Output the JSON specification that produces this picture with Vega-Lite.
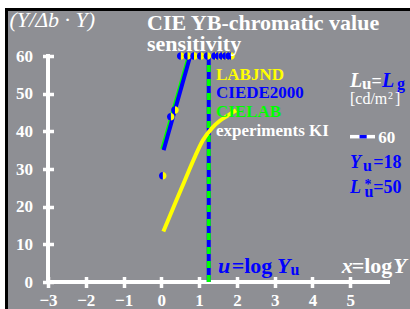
{
  "$schema": "https://vega.github.io/schema/vega-lite/v6.json",
  "width": 340,
  "height": 226,
  "autosize": {"type": "none"},
  "padding": {"left": 48, "top": 56, "right": 22, "bottom": 27},
  "background": "#8e8f94",
  "config": {
    "view": {"stroke": null},
    "axis": {"domain": false, "grid": false, "ticks": true, "tickColor": "white", "tickWidth": 3.5, "tickSize": 11, "offset": -5.5,
      "labelColor": "white", "labelFont": "Liberation Serif", "labelFontSize": 17, "labelFontWeight": "bold",
      "labelFlush": false, "labelOverlap": false, "labelBound": false, "labelSeparation": 0},
    "axisX": {"labelPadding": 5},
    "axisY": {"labelPadding": 10}
  },
  "data": {"values": [{}]},
  "layer": [
    {
      "data": {"values": [
        {"x": 0.053, "y": 13.4}, {"x": 0.3, "y": 19.3}, {"x": 0.627, "y": 27.1}, {"x": 0.9, "y": 33.5},
        {"x": 1.1, "y": 37.6}, {"x": 1.334, "y": 40.8}, {"x": 1.55, "y": 42.8}, {"x": 1.747, "y": 44.1}, {"x": 1.977, "y": 45.6}
      ]},
      "mark": {"type": "line", "color": "#ffff00", "strokeWidth": 4, "interpolate": "monotone", "opacity": 0},
      "encoding": {
        "x": {"field": "x", "type": "quantitative", "title": null, "scale": {"domain": [-3, 6], "nice": false, "zero": false},
          "axis": {"values": [-3, -2, -1, 0, 1, 2, 3, 4, 5], "labelOverlap": false, "labelFlush": false, "labelBound": false, "labelPadding": 5}},
        "y": {"field": "y", "type": "quantitative", "title": null, "scale": {"domain": [0, 60], "nice": false, "zero": false},
          "axis": {"values": [0, 10, 20, 30, 40, 50, 60], "tickCount": 7, "labelOverlap": false, "labelFlush": false, "labelBound": false, "labelPadding": 10}}
      }
    },
    {
      "mark": {"type": "rect", "color": "white"},
      "encoding": {
        "x": {"datum": -5, "type": "quantitative", "title": null, "scale": {"domain": [-3, 6], "nice": false, "zero": false}},
        "x2": {"datum": 7},
        "y": {"datum": 72.74, "type": "quantitative", "title": null, "scale": {"domain": [0, 60], "nice": false, "zero": false}},
        "y2": {"datum": 80}
      }
    },
    {
      "mark": {"type": "rect", "color": "white"},
      "encoding": {
        "x": {"datum": -5, "type": "quantitative", "title": null, "scale": {"domain": [-3, 6], "nice": false, "zero": false}},
        "x2": {"datum": -4.138},
        "y": {"datum": -10, "type": "quantitative", "title": null, "scale": {"domain": [0, 60], "nice": false, "zero": false}},
        "y2": {"datum": 80}
      }
    },
    {
      "mark": {"type": "rect", "color": "black"},
      "encoding": {
        "x": {"datum": -4.138, "type": "quantitative", "title": null, "scale": {"domain": [-3, 6], "nice": false, "zero": false}},
        "x2": {"datum": 7},
        "y": {"datum": 71.95, "type": "quantitative", "title": null, "scale": {"domain": [0, 60], "nice": false, "zero": false}},
        "y2": {"datum": 72.74}
      }
    },
    {
      "mark": {"type": "rect", "color": "black"},
      "encoding": {
        "x": {"datum": -4.138, "type": "quantitative", "title": null, "scale": {"domain": [-3, 6], "nice": false, "zero": false}},
        "x2": {"datum": -4.059},
        "y": {"datum": -10, "type": "quantitative", "title": null, "scale": {"domain": [0, 60], "nice": false, "zero": false}},
        "y2": {"datum": 72.74}
      }
    },
    {
      "mark": {"type": "rule", "color": "white", "strokeWidth": 4, "strokeCap": "square"},
      "encoding": {
        "x": {"datum": -3, "type": "quantitative", "title": null, "scale": {"domain": [-3, 6], "nice": false, "zero": false}},
        "x2": {"datum": 6},
        "y": {"datum": 0, "type": "quantitative", "title": null, "scale": {"domain": [0, 60], "nice": false, "zero": false}}
      }
    },
    {
      "mark": {"type": "rule", "color": "white", "strokeWidth": 4, "strokeCap": "square"},
      "encoding": {
        "x": {"datum": -3, "type": "quantitative", "title": null, "scale": {"domain": [-3, 6], "nice": false, "zero": false}},
        "y": {"datum": 0, "type": "quantitative", "title": null, "scale": {"domain": [0, 60], "nice": false, "zero": false}},
        "y2": {"datum": 60}
      }
    },
    {
      "mark": {"type": "rule", "color": "#0000ff", "strokeWidth": 4},
      "encoding": {
        "x": {"datum": 1.255, "type": "quantitative", "title": null, "scale": {"domain": [-3, 6], "nice": false, "zero": false}},
        "y": {"datum": 0, "type": "quantitative", "title": null, "scale": {"domain": [0, 60], "nice": false, "zero": false}},
        "y2": {"datum": 60}
      }
    },
    {
      "mark": {"type": "rule", "color": "#00ff00", "strokeWidth": 4, "strokeDash": [7, 7]},
      "encoding": {
        "x": {"datum": 1.255, "type": "quantitative", "title": null, "scale": {"domain": [-3, 6], "nice": false, "zero": false}},
        "y": {"datum": 0, "type": "quantitative", "title": null, "scale": {"domain": [0, 60], "nice": false, "zero": false}},
        "y2": {"datum": 60}
      }
    },
    {
      "data": {"values": [
        {"x": 0.053, "y": 13.4}, {"x": 0.3, "y": 19.3}, {"x": 0.627, "y": 27.1}, {"x": 0.9, "y": 33.5},
        {"x": 1.1, "y": 37.6}, {"x": 1.334, "y": 40.8}, {"x": 1.55, "y": 42.8}, {"x": 1.747, "y": 44.1}, {"x": 1.977, "y": 45.6}
      ]},
      "mark": {"type": "line", "color": "#ffff00", "strokeWidth": 4, "interpolate": "monotone"},
      "encoding": {
        "x": {"field": "x", "type": "quantitative", "title": null, "scale": {"domain": [-3, 6], "nice": false, "zero": false}},
        "y": {"field": "y", "type": "quantitative", "title": null, "scale": {"domain": [0, 60], "nice": false, "zero": false}}
      }
    },
    {
      "data": {"values": [{"x": 0.025, "y": 35.3}, {"x": 0.735, "y": 60.2}]},
      "mark": {"type": "line", "color": "#00ff00", "strokeWidth": 4},
      "encoding": {
        "x": {"field": "x", "type": "quantitative", "title": null, "scale": {"domain": [-3, 6], "nice": false, "zero": false}},
        "y": {"field": "y", "type": "quantitative", "title": null, "scale": {"domain": [0, 60], "nice": false, "zero": false}}
      }
    },
    {
      "data": {"values": [{"x": 0.06, "y": 35.0}, {"x": 0.77, "y": 60.2}]},
      "mark": {"type": "line", "color": "#0000ff", "strokeWidth": 4},
      "encoding": {
        "x": {"field": "x", "type": "quantitative", "title": null, "scale": {"domain": [-3, 6], "nice": false, "zero": false}},
        "y": {"field": "y", "type": "quantitative", "title": null, "scale": {"domain": [0, 60], "nice": false, "zero": false}}
      }
    },
    {
      "data": {"name": "pts", "values": [
        {"x": 0.037, "y": 28.2}, {"x": 0.249, "y": 43.9}, {"x": 0.36, "y": 45.66},
        {"x": 0.512, "y": 60}, {"x": 0.69, "y": 60}, {"x": 0.865, "y": 60}, {"x": 1.042, "y": 60}, {"x": 1.219, "y": 60},
        {"x": 1.42, "y": 60}, {"x": 1.51, "y": 60}, {"x": 1.61, "y": 60}, {"x": 1.7, "y": 60}, {"x": 1.79, "y": 60}, {"x": 1.845, "y": 60}
      ]},
      "layer": [
        {
          "mark": {"type": "point", "shape": "M0,-1A1,1,0,0,1,0,1Z", "filled": true, "color": "#ffff00", "size": 56, "opacity": 1, "strokeWidth": 0},
          "encoding": {
            "x": {"field": "x", "type": "quantitative", "title": null, "scale": {"domain": [-3, 6], "nice": false, "zero": false}},
            "y": {"field": "y", "type": "quantitative", "title": null, "scale": {"domain": [0, 60], "nice": false, "zero": false}}
          }
        },
        {
          "mark": {"type": "point", "shape": "M0,-1A1,1,0,0,0,0,1Z", "filled": true, "color": "#0000ff", "size": 56, "opacity": 1, "strokeWidth": 0},
          "encoding": {
            "x": {"field": "x", "type": "quantitative", "title": null, "scale": {"domain": [-3, 6], "nice": false, "zero": false}},
            "y": {"field": "y", "type": "quantitative", "title": null, "scale": {"domain": [0, 60], "nice": false, "zero": false}}
          }
        }
      ]
    },
    {
      "mark": {"type": "rule", "color": "white", "strokeWidth": 3.5},
      "encoding": {
        "x": {"datum": 4.994, "type": "quantitative", "title": null, "scale": {"domain": [-3, 6], "nice": false, "zero": false}},
        "x2": {"datum": 5.656},
        "y": {"datum": 38.58, "type": "quantitative", "title": null, "scale": {"domain": [0, 60], "nice": false, "zero": false}}
      }
    },
    {
      "mark": {"type": "rule", "color": "#0000ff", "strokeWidth": 3.5},
      "encoding": {
        "x": {"datum": 5.246, "type": "quantitative", "title": null, "scale": {"domain": [-3, 6], "nice": false, "zero": false}},
        "x2": {"datum": 5.436},
        "y": {"datum": 38.58, "type": "quantitative", "title": null, "scale": {"domain": [0, 60], "nice": false, "zero": false}}
      }
    },
    {
      "encoding": {
        "x": {"field": "x", "type": "quantitative", "title": null, "scale": {"domain": [-3, 6], "nice": false, "zero": false}},
        "y": {"field": "y", "type": "quantitative", "title": null, "scale": {"domain": [0, 60], "nice": false, "zero": false}},
        "text": {"field": "t"}
      },
      "layer": [
        {
          "data": {"values": [
            {"x": -0.379, "y": 66.77, "t": "CIE YB-chromatic value"},
            {"x": -0.379, "y": 61.33, "t": "sensitivity"},
            {"x": 5.039, "y": 2.31, "t": "=log"}
          ]},
          "mark": {"type": "text", "align": "left", "baseline": "alphabetic", "font": "Liberation Serif", "fontSize": 22, "fontWeight": "bold", "color": "white"}
        },
        {
          "data": {"values": [{"x": -4.019, "y": 67.7, "t": "(Y/Δb · Y)"}]},
          "mark": {"type": "text", "align": "left", "baseline": "alphabetic", "font": "Liberation Serif", "fontSize": 22, "fontStyle": "italic", "color": "white"}
        },
        {
          "data": {"values": [{"x": 1.447, "y": 53.63, "t": "LABJND"}]},
          "mark": {"type": "text", "align": "left", "baseline": "alphabetic", "font": "Liberation Serif", "fontSize": 17, "fontWeight": "bold", "color": "#ffff00"}
        },
        {
          "data": {"values": [{"x": 1.447, "y": 48.72, "t": "CIEDE2000"}]},
          "mark": {"type": "text", "align": "left", "baseline": "alphabetic", "font": "Liberation Serif", "fontSize": 17, "fontWeight": "bold", "color": "#0000ff"}
        },
        {
          "data": {"values": [{"x": 1.447, "y": 43.81, "t": "CIELAB"}]},
          "mark": {"type": "text", "align": "left", "baseline": "alphabetic", "font": "Liberation Serif", "fontSize": 17, "fontWeight": "bold", "color": "#00ff00"}
        },
        {
          "data": {"values": [
            {"x": 1.447, "y": 38.89, "t": "experiments KI"},
            {"x": 5.743, "y": 36.9, "t": "60"},
            {"x": 5.312, "y": 51.37, "t": "u"}
          ]},
          "mark": {"type": "text", "align": "left", "baseline": "alphabetic", "font": "Liberation Serif", "fontSize": 17, "fontWeight": "bold", "color": "white"}
        },
        {
          "data": {"values": [{"x": 4.994, "y": 51.9, "t": "L"}]},
          "mark": {"type": "text", "align": "left", "baseline": "alphabetic", "font": "Liberation Serif", "fontSize": 20, "fontWeight": "bold", "fontStyle": "italic", "color": "white"}
        },
        {
          "data": {"values": [{"x": 5.563, "y": 51.9, "t": "="}]},
          "mark": {"type": "text", "align": "left", "baseline": "alphabetic", "font": "Liberation Serif", "fontSize": 18, "fontWeight": "bold", "color": "white"}
        },
        {
          "data": {"values": [{"x": 5.841, "y": 51.9, "t": "L"}]},
          "mark": {"type": "text", "align": "left", "baseline": "alphabetic", "font": "Liberation Serif", "fontSize": 20, "fontWeight": "bold", "fontStyle": "italic", "color": "#0000ff"}
        },
        {
          "data": {"values": [
            {"x": 6.238, "y": 51.37, "t": "g"},
            {"x": 5.338, "y": 29.6, "t": "u"},
            {"x": 5.378, "y": 22.57, "t": "u"},
            {"x": 3.419, "y": 1.73, "t": "u"}
          ]},
          "mark": {"type": "text", "align": "left", "baseline": "alphabetic", "font": "Liberation Serif", "fontSize": 16, "fontWeight": "bold", "color": "#0000ff"}
        },
        {
          "data": {"values": [
            {"x": 4.994, "y": 47.26, "t": "[cd/m"},
            {"x": 6.185, "y": 47.26, "t": "]"}
          ]},
          "mark": {"type": "text", "align": "left", "baseline": "alphabetic", "font": "Liberation Serif", "fontSize": 16, "color": "white"}
        },
        {
          "data": {"values": [{"x": 6.0, "y": 48.58, "t": "2"}]},
          "mark": {"type": "text", "align": "left", "baseline": "alphabetic", "font": "Liberation Serif", "fontSize": 10, "color": "white"}
        },
        {
          "data": {"values": [
            {"x": 4.994, "y": 30.27, "t": "Y"},
            {"x": 4.994, "y": 23.55, "t": "L"}
          ]},
          "mark": {"type": "text", "align": "left", "baseline": "alphabetic", "font": "Liberation Serif", "fontSize": 18, "fontWeight": "bold", "fontStyle": "italic", "color": "#0000ff"}
        },
        {
          "data": {"values": [{"x": 5.378, "y": 24.56, "t": "*"}]},
          "mark": {"type": "text", "align": "left", "baseline": "alphabetic", "font": "Liberation Serif", "fontSize": 14, "fontWeight": "bold", "color": "#0000ff"}
        },
        {
          "data": {"values": [
            {"x": 5.611, "y": 30.27, "t": "=18"},
            {"x": 5.611, "y": 23.55, "t": "=50"}
          ]},
          "mark": {"type": "text", "align": "left", "baseline": "alphabetic", "font": "Liberation Serif", "fontSize": 18, "fontWeight": "bold", "color": "#0000ff"}
        },
        {
          "data": {"values": [
            {"x": 1.5, "y": 2.31, "t": "u"},
            {"x": 3.062, "y": 2.31, "t": "Y"}
          ]},
          "mark": {"type": "text", "align": "left", "baseline": "alphabetic", "font": "Liberation Serif", "fontSize": 22, "fontWeight": "bold", "fontStyle": "italic", "color": "#0000ff"}
        },
        {
          "data": {"values": [{"x": 1.863, "y": 2.31, "t": "=log"}]},
          "mark": {"type": "text", "align": "left", "baseline": "alphabetic", "font": "Liberation Serif", "fontSize": 22, "fontWeight": "bold", "color": "#0000ff"}
        },
        {
          "data": {"values": [
            {"x": 4.774, "y": 2.31, "t": "x"},
            {"x": 6.14, "y": 2.31, "t": "Y"}
          ]},
          "mark": {"type": "text", "align": "left", "baseline": "alphabetic", "font": "Liberation Serif", "fontSize": 22, "fontWeight": "bold", "fontStyle": "italic", "color": "white"}
        }
      ]
    }
  ]
}
